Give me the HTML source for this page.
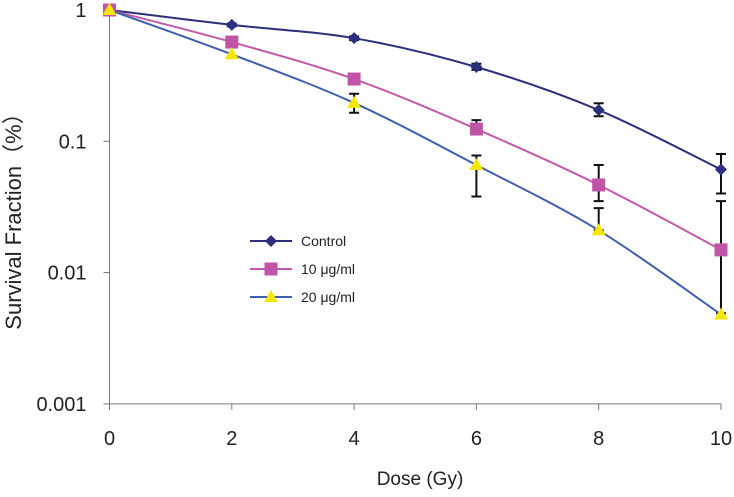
<!DOCTYPE html>
<html><head><meta charset="utf-8"><style>
body{margin:0;background:#fff}
text{font-family:"Liberation Sans","Noto Sans CJK SC",sans-serif;fill:#222}
</style></head><body>
<svg id="c" width="734" height="492"></svg>
<script>
const doses=[0,2,4,6,8,10];
const controlVals=[1,0.77,0.61,0.368,0.173,0.061];
const controlHi=[1,0.79,0.63,0.39,0.195,0.080];
const controlLo=[1,0.75,0.59,0.35,0.155,0.040];
const low10Vals=[1,0.57,0.298,0.124,0.0465,0.0149];
const low10Hi=[1,0.57,0.298,0.145,0.066,0.035];
const low10Lo=[1,0.57,0.298,0.124,0.035,0.0049];
const high20Vals=[1,0.46,0.196,0.066,0.021,0.0048];
const high20Hi=[1,0.46,0.23,0.078,0.031,0.0048];
const high20Lo=[1,0.46,0.165,0.038,0.021,0.0048];
const xTicks=[0,2,4,6,8,10];
const yTicks=[1,0.1,0.01,0.001];
const yTickLabels=["1","0.1","0.01","0.001"];
const svg=document.getElementById('c');const NS='http://www.w3.org/2000/svg';
const X=v=>109.5+v*61.15;
const Y=v=>10-Math.log10(v)*131.3;
function mk(t,a,p){const e=document.createElementNS(NS,t);for(const k in a)e.setAttribute(k,a[k]);(p||svg).appendChild(e);return e;}
let ax=mk('path',{d:`M${X(0)},10V${Y(0.001)}H${X(10)}`,stroke:'#777',fill:'none','stroke-width':1});


yTicks.forEach((t,i)=>{
 let l=mk('line',{x1:X(0)-6,x2:X(0),y1:Y(t),y2:Y(t),stroke:'#777'});
 
 
 let tx=mk('text',{x:X(0)-23,y:Y(t)+7,'text-anchor':'end','font-size':20});tx.textContent=yTickLabels[i];
 
 
});
xTicks.forEach(t=>{
 let l=mk('line',{x1:X(t),x2:X(t),y1:Y(0.001),y2:Y(0.001)+6,stroke:'#777'});
 
 
 let tx=mk('text',{x:X(t),y:445,'text-anchor':'middle','font-size':20});tx.textContent=t;
 
 
});
let xt=mk('text',{x:420,y:485,'text-anchor':'middle','font-size':19});xt.textContent='Dose (Gy)';


let yt=mk('text',{x:0,y:0,'text-anchor':'middle','font-size':22,transform:'translate(21,216) rotate(-90)'});yt.textContent='Survival Fraction（%）';


function smooth(pts){let d=`M${pts[0][0]},${pts[0][1]}`;for(let i=0;i<pts.length-1;i++){const p0=pts[i-1]||pts[i],p1=pts[i],p2=pts[i+1],p3=pts[i+2]||p2;d+=`C${p1[0]+(p2[0]-p0[0])/6},${p1[1]+(p2[1]-p0[1])/6} ${p2[0]-(p3[0]-p1[0])/6},${p2[1]-(p3[1]-p1[1])/6} ${p2[0]},${p2[1]}`;}return d;}
function marker(type,x,y,fill,g){
 if(type==='d')return mk('path',{d:`M${x},${y-6}L${x+6},${y}L${x},${y+6}L${x-6},${y}Z`,fill},g);
 if(type==='s')return mk('rect',{x:x-6.5,y:y-6.5,width:13,height:13,fill},g);
 return mk('path',{d:`M${x},${y-7}L${x+7},${y+5}L${x-7},${y+5}Z`,fill},g);
}
const series=[
 {name:'control',vals:controlVals,hi:controlHi,lo:controlLo,c:'#2b2f7e',m:'d',mf:'#2b2f7e'},
 {name:'10-ug-ml',vals:low10Vals,hi:low10Hi,lo:low10Lo,c:'#c35aa8',m:'s',mf:'#c054a6'},
 {name:'20-ug-ml',vals:high20Vals,hi:high20Hi,lo:high20Lo,c:'#3e5fb0',m:'t',mf:'#f5e600'}];
series.forEach(s=>{
 const g=mk('g',{});
 
 
 const p=mk('path',{d:smooth(doses.map((d,i)=>[X(d),Y(s.vals[i])])),stroke:s.c,fill:'none','stroke-width':2},g);
 
 
 doses.forEach((d,i)=>{
  if(s.hi[i]!==s.lo[i]){const x=X(d);
   const e=mk('path',{d:`M${x},${Y(s.hi[i])}V${Y(s.lo[i])}M${x-5},${Y(s.hi[i])}h10M${x-5},${Y(s.lo[i])}h10`,stroke:'#111','stroke-width':2,fill:'none'},g);
   
   }
 });
 doses.forEach((d,i)=>{const m=marker(s.m,X(d),Y(s.vals[i]),s.mf,g);
  
  });
});
const legendLabels=['Control','10 μg/ml','20 μg/ml'];
series.forEach((s,i)=>{
 const y=241+i*28;const g=mk('g',{});
 
 
 mk('line',{x1:250,x2:292,y1:y,y2:y,stroke:s.c,'stroke-width':2},g);
 marker(s.m,271,y,s.mf,g);
 const t=mk('text',{x:301,y:y+5,'font-size':14},g);t.textContent=legendLabels[i];
});
</script>
</body></html>
